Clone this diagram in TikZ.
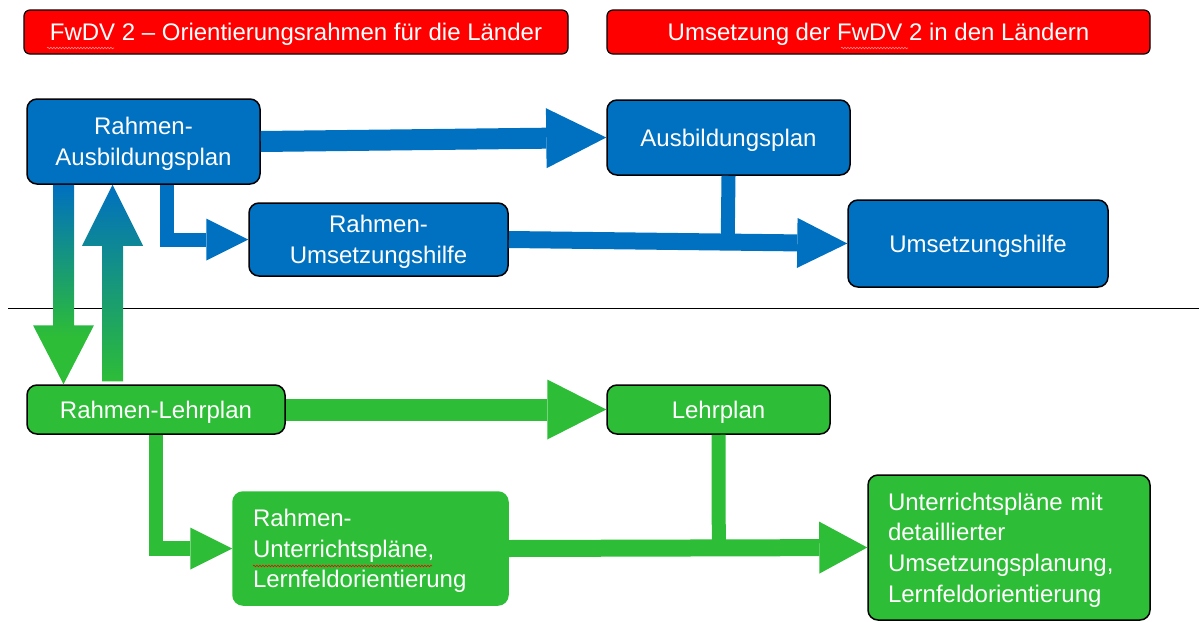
\documentclass[tikz,border=0pt]{standalone}
\usepackage{fontspec}
\setmainfont{Liberation Sans}
\usetikzlibrary{arrows.meta,calc,decorations.pathmorphing}
\definecolor{ffblue}{RGB}{0,112,192}
\definecolor{ffgreen}{RGB}{45,189,55}
\definecolor{ffred}{RGB}{255,0,0}

\begin{document}
% blue-to-green fade that is already fully green over the lower quarter
\pgfdeclareverticalshading{downfade}{100bp}{color(0bp)=(ffgreen); color(37bp)=(ffgreen);
  color(75bp)=(ffblue); color(100bp)=(ffblue)}
\begin{tikzpicture}[x=1pt,y=-1pt,
  every node/.style={font=\fontsize{24}{30.7}\selectfont, text=white, inner sep=0pt},
  % text boxes span from the cap line of the first row to the last baseline
  oneline/.style={text height=17.2pt, text depth=0pt},
  twocentered/.style={align=center, text height=47.9pt, text depth=0pt},
  threelines/.style={text height=17.2pt, text depth=61.4pt},
  fourlines/.style={text height=17.2pt, text depth=92.1pt},
  box/.style={draw=black, line width=1.5pt, rounded corners=10pt},
  bluebox/.style={box, fill=ffblue},
  greenbox/.style={box, fill=ffgreen},
  headbox/.style={box, fill=ffred, rounded corners=6pt, line width=1.2pt},
  blockarrow/.style n args={4}{draw=#1, line width=#2, line join=miter,
    -{Triangle[width=#3, length=#4, line width=0pt]}},
  joint/.style n args={2}{draw=#1, line width=#2},
  spell/.style={line width=0.6pt, decorate,
    decoration={snake, amplitude=0.8pt, segment length=3pt}},
]
\useasboundingbox (0,0) rectangle (1199,621);

% header bars
\node[headbox, oneline, minimum width=544, minimum height=44] (h1) at (296,32)
  {FwDV 2 – Orientierungsrahmen für die Länder};
\node[headbox, oneline, minimum width=543, minimum height=44] (h2) at (878.5,32)
  {Umsetzung der FwDV 2 in den Ländern};

% upper level: training plans
\node[bluebox, twocentered, minimum width=233, minimum height=85] (rab) at (143.5,141.5)
  {Rahmen-\\Ausbildungsplan};
\node[bluebox, oneline, minimum width=243, minimum height=75] (ap) at (728.5,137.5)
  {Ausbildungsplan};
\node[bluebox, twocentered, minimum width=259, minimum height=73] (ru) at (378.5,239.5)
  {Rahmen-\\Umsetzungshilfe};
\node[bluebox, oneline, minimum width=260, minimum height=87] (uh) at (978,243.5)
  {Umsetzungshilfe};

% lower level: curricula
\node[greenbox, oneline, minimum width=258, minimum height=49] (rl) at (156,409.5)
  {Rahmen-Lehrplan};
\node[greenbox, oneline, minimum width=223, minimum height=49] (lp) at (718.5,409.5)
  {Lehrplan};
\node[greenbox, threelines, draw=ffgreen, minimum width=275, minimum height=113,
      text width=235, inner xsep=20, align=left] (rup) at (370.5,548.5)
  {Rahmen-\\Unterrichtspläne,\\Lernfeldorientierung};
\node[greenbox, fourlines, minimum width=282, minimum height=145,
      text width=242, inner xsep=20, align=left] (up) at (1009,547.5)
  {Unterrichtspläne mit\\detaillierter\\Umsetzungsplanung,\\Lernfeldorientierung};

% separator between the two levels
\draw[line width=1pt] (8,308) -- (1199,308);

% blue connectors
\draw[blockarrow={ffblue}{21pt}{60pt}{60pt}] (rab.east) -- (ap.west);
\draw[blockarrow={ffblue}{14pt}{42pt}{42pt}] ([xshift=23pt]rab.south) |- (ru.west);
\draw[blockarrow={ffblue}{17pt}{50pt}{50pt}] (ru.east) -- (uh.west);
\coordinate (j1) at ($(ru.east)!(ap.south)!(uh.west)$);
\draw[joint={ffblue}{14pt}] (ap.south) -- (j1);

% green connectors
\draw[blockarrow={ffgreen}{22pt}{60pt}{59pt}] (rl.east) -- (lp.west);
\draw[blockarrow={ffgreen}{14.5pt}{42pt}{42pt}] (rl.south) |- (rup.west);
\draw[blockarrow={ffgreen}{17pt}{52pt}{48pt}] (rup.east) -- (up.west);
\coordinate (j2) at ($(rup.east)!(lp.south)!(up.west)$);
\draw[joint={ffgreen}{14pt}] (lp.south) -- (j2);

% shaded arrows between the levels
\shade[shading=downfade]
  let \p1=([xshift=-80pt]rab.south), \p2=([xshift=-80pt]rl.north) in
  (\x1-10.5pt,\y1) -- (\x1+10.5pt,\y1) -- (\x1+10.5pt,\y2+59pt) --
  (\x1+30.5pt,\y2+59pt) -- (\x1,\y2) -- (\x1-30.5pt,\y2+59pt) --
  (\x1-10.5pt,\y2+59pt) -- cycle;
\shade[top color=ffblue, bottom color=ffgreen]
  let \p1=([xshift=-31pt]rab.south), \p2=([xshift=-31pt]rl.north) in
  (\x1-10.5pt,\y2+3pt) -- (\x1+10.5pt,\y2+3pt) -- (\x1+10.5pt,\y1-61pt) --
  (\x1+30.5pt,\y1-61pt) -- (\x1,\y1) -- (\x1-30.5pt,\y1-61pt) --
  (\x1-10.5pt,\y1-61pt) -- cycle;

% spelling marks under unknown words
\draw[spell, ffred!45!white] (47,48) -- (114,48);
\draw[spell, ffred!45!white] (841,48) -- (908,48);
\draw[spell, ffred] (253,566) -- (432,566);
\end{tikzpicture}
\end{document}
